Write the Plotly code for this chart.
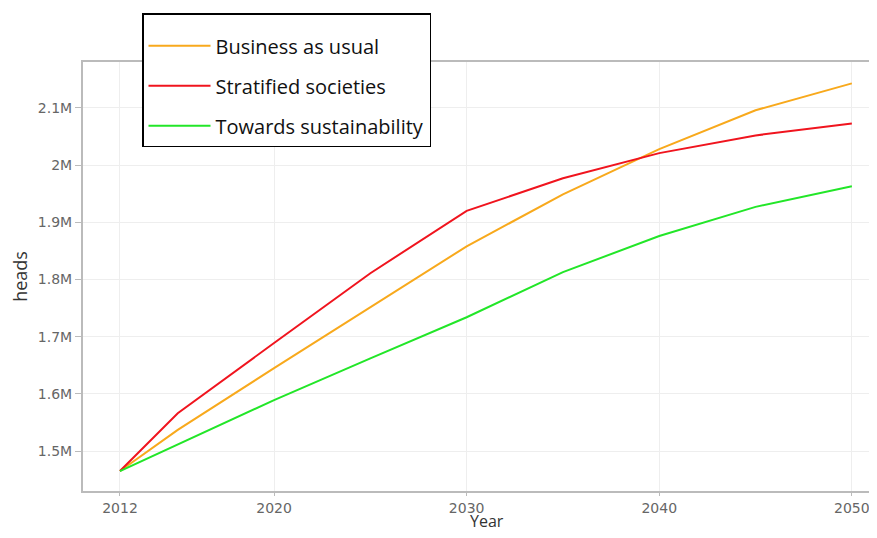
import plotly.graph_objects as go

years = [2012, 2015, 2020, 2025, 2030, 2035, 2040, 2045, 2050]
business_as_usual = [1465000, 1537000, 1645000, 1751000, 1858000, 1949000, 2028000, 2096000, 2143000]
stratified_societies = [1465000, 1566000, 1689000, 1811000, 1920000, 1977000, 2021000, 2052000, 2073000]
towards_sustainability = [1465000, 1511000, 1589000, 1662000, 1734000, 1813000, 1876000, 1927000, 1963000]

series_names = ["Business as usual", "Stratified societies", "Towards sustainability"]
series_colors = ["#F8A91C", "#F0141E", "#22E628"]
x_ticks = [2012, 2020, 2030, 2040, 2050]
x_title = "Year"
y_title = "heads"

fig = go.Figure()
for name, vals, col in zip(series_names,
                           [business_as_usual, stratified_societies, towards_sustainability],
                           series_colors):
    fig.add_trace(go.Scatter(x=years, y=vals, mode="lines", name=name,
                             legendgroup=name,
                             line=dict(color=col, width=2)))

# page has an 8px body margin; figure sized to fit inside the window
fig.update_layout(
    width=861, height=522,
    margin=dict(l=75, r=0, t=54, b=39, autoexpand=False),
    paper_bgcolor="white", plot_bgcolor="white",
    font=dict(family="DejaVu Sans", size=14, color="#666"),
    legend=dict(
        x=(142 - 83) / 786, y=1 + (62 - 13) / 429, xanchor="left", yanchor="top",
        bgcolor="white", bordercolor="black", borderwidth=1.5,
        font=dict(family="Open Sans", size=20, color="#111"),
        tracegroupgap=11,
        itemwidth=62,
        title=dict(text="\u00a0", font=dict(size=9)),
    ),
    xaxis=dict(
        range=[2010.08, 2050.89],
        tickvals=x_ticks, automargin=False, ticklabeloverflow="allow",
        showline=True, linecolor="#BBBBBB", linewidth=2, mirror=True,
        ticks="outside", ticklen=3, tickcolor="#BBBBBB",
        showgrid=True, gridcolor="#EEEEEE", zeroline=False,
    ),
    yaxis=dict(
        range=[1430100, 2180400], automargin=False,
        dtick=100000, tick0=1500000, tickformat="~s",
        showline=True, linecolor="#BBBBBB", linewidth=2, mirror=False,
        ticks="outside", ticklen=6, tickcolor="#BBBBBB",
        showgrid=True, gridcolor="#EEEEEE", zeroline=False,
        title=dict(text=y_title, font=dict(family="Open Sans", size=18, color="#333"), standoff=8),
    ),
)

fig.add_annotation(
    text=x_title, xref="paper", yref="paper",
    x=0.514, y=-39 / 429, xanchor="center", yanchor="bottom", yshift=-4,
    showarrow=False, font=dict(family="Open Sans", size=16, color="#333"),
)

fig.write_html("out.html")
